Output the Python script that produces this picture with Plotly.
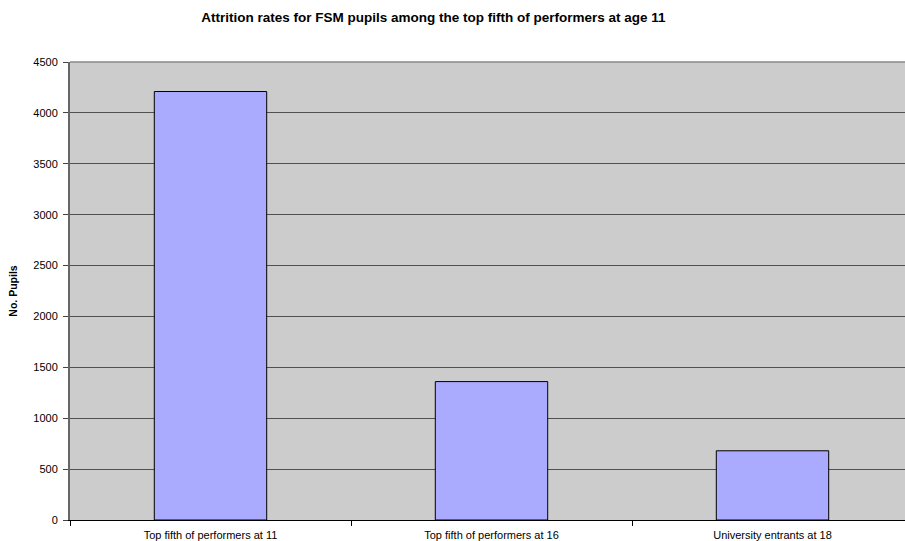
import plotly.graph_objects as go

categories = ["Top fifth of performers at 11", "Top fifth of performers at 16", "University entrants at 18"]
pupils = [4210, 1360, 680]
y_ticks = [0, 500, 1000, 1500, 2000, 2500, 3000, 3500, 4000, 4500]

fig = go.Figure()
fig.add_trace(go.Bar(
    x=categories, y=pupils, width=0.40,
    marker=dict(color="#AAAAFF", line=dict(color="#000000", width=1)),
))

W, H = 905, 541
fig.update_layout(
    width=W, height=H,
    margin=dict(l=70, r=0, t=62, b=21),
    paper_bgcolor="#FFFFFF", plot_bgcolor="#CCCCCC",
    font=dict(family="Liberation Sans, Arial, sans-serif", size=11, color="#000000"),
    showlegend=False,
    title=dict(text="<b>Attrition rates for FSM pupils among the top fifth of performers at age 11</b>",
               x=433.5 / W, xref="container", xanchor="center",
               y=1 - 17.5 / H, yref="container", yanchor="middle",
               font=dict(size=13.5)),
    bargap=0.6,
)
fig.update_xaxes(
    range=[-0.5, -0.5 + 835 / 281], showline=True, linecolor="#000000", linewidth=1,
    ticks="outside", ticklen=5, tickcolor="#000000", tickson="boundaries",
    showgrid=False, fixedrange=True, ticklabelstandoff=5,
)
fig.update_yaxes(
    range=[0, 4500], tickvals=y_ticks, showline=True, linecolor="#666666", linewidth=2,
    ticks="outside", ticklen=5, tickcolor="#444444",
    showgrid=True, gridcolor="#505050", gridwidth=1, zeroline=False,
    title=dict(text="<b>No. Pupils</b>", standoff=14, font=dict(size=10.5)),
    ticklabelstandoff=3,
)
fig.add_shape(type="line", xref="paper", yref="paper", x0=0, x1=1, y0=1, y1=1,
              line=dict(color="#888888", width=1.5))

fig.write_html("out.html", config={"displayModeBar": False},
               post_script="document.body.style.margin='0';document.body.style.overflow='hidden';")
